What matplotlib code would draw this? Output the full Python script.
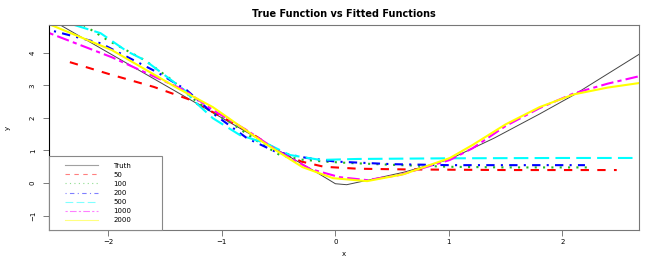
import numpy as np
import matplotlib
matplotlib.use('Agg')
import matplotlib.pyplot as plt
from matplotlib.legend_handler import HandlerLine2D

# values
truth_x = [-2.55, -2.0, -1.5, -1.0, -0.5, -0.2, 0.0, 0.1, 0.3, 0.6, 1.0, 1.4, 1.8, 2.1, 2.7]
truth_y = [5.1, 4.0, 3.0, 2.0, 1.0, 0.4, -0.02, -0.05, 0.1, 0.33, 0.72, 1.38, 2.12, 2.7, 4.0]

x50 = [-2.34, -2.0, -1.6, -1.3, -1.0, -0.75, -0.5, -0.3, -0.1, 0.2, 0.6, 1.0, 1.5, 2.0, 2.48]
y50 = [3.71, 3.35, 2.95, 2.58, 2.03, 1.55, 0.98, 0.66, 0.5, 0.44, 0.42, 0.41, 0.40, 0.40, 0.40]

x100 = [-2.22, -2.01, -1.68, -1.44, -1.26, -1.1, -0.93, -0.66, -0.49, -0.3, -0.1, 0.1, 0.5, 1.0, 1.5, 2.26]
y100 = [4.85, 4.39, 3.77, 3.16, 2.6, 2.2, 1.87, 1.22, 0.86, 0.72, 0.66, 0.62, 0.56, 0.50, 0.48, 0.48]

x200 = [-2.48, -2.07, -1.57, -1.31, -1.08, -0.78, -0.52, -0.25, 0.0, 0.5, 1.0, 1.5, 2.2]
y200 = [4.66, 4.29, 3.4, 2.85, 2.14, 1.38, 0.95, 0.77, 0.66, 0.58, 0.55, 0.55, 0.55]

x500 = [-2.3, -2.07, -1.84, -1.68, -1.5, -1.33, -1.24, -1.08, -0.84, -0.61, -0.4, -0.13, 0.2, 1.0, 2.0, 2.64]
y500 = [4.85, 4.6, 4.05, 3.77, 3.3, 2.85, 2.5, 1.99, 1.47, 1.22, 0.86, 0.71, 0.74, 0.76, 0.77, 0.77]

x1000 = [-2.52, -1.97, -1.68, -1.33, -1.08, -0.78, -0.49, -0.22, 0.04, 0.28, 0.57, 1.01, 1.21, 1.5, 1.8, 2.1, 2.4, 2.68]
y1000 = [4.6, 3.86, 3.4, 2.85, 2.24, 1.62, 0.95, 0.43, 0.18, 0.09, 0.25, 0.71, 1.07, 1.75, 2.3, 2.75, 3.05, 3.28]

x2000 = [-2.52, -1.97, -1.39, -1.08, -0.64, -0.29, -0.02, 0.28, 0.6, 1.01, 1.21, 1.5, 1.8, 2.1, 2.4, 2.68]
y2000 = [4.87, 4.08, 2.91, 2.33, 1.26, 0.49, 0.15, 0.06, 0.27, 0.77, 1.17, 1.8, 2.33, 2.72, 2.93, 3.07]

labels = ['Truth', '50', '100', '200', '500', '1000', '2000']
colors = ['#444444', 'red', '#22bb22', 'blue', 'cyan', 'magenta', 'yellow']
# R style line types, in units of line width
dashes = [None, (4, 4), (1, 3), (1, 3, 4, 3), (7, 3), (2, 2, 6, 2), None]

fig = plt.figure(figsize=(6.64, 2.62), dpi=100)
ax = fig.add_axes([0.0738, 0.1221, 0.8885, 0.7825])

series = [(truth_x, truth_y), (x50, y50), (x100, y100), (x200, y200),
          (x500, y500), (x1000, y1000), (x2000, y2000)]
handles = []
for (xs, ys), lab, col, d in zip(series, labels, colors, dashes):
    lw = 0.7 if lab == 'Truth' else 1.5
    line, = ax.plot(xs, ys, color=col, lw=lw, label=lab)
    if d is not None:
        line.set_dashes(d)
    handles.append(line)

ax.set_xlim(-2.524, 2.676)
ax.set_ylim(-1.44, 4.85)
ax.set_xticks([-2, -1, 0, 1, 2])
ax.set_yticks([-1, 0, 1, 2, 3, 4])
ax.tick_params(labelsize=5, length=4.5, width=0.6, color='#666666')
ax.tick_params(axis='y', pad=5)
ax.tick_params(axis='x', pad=2)
for t in ax.get_yticklabels():
    t.set_rotation(90)
    t.set_va('center')
for s in ax.spines.values():
    s.set_color('#777777')
    s.set_linewidth(0.8)
ax.spines['left'].set_color('black')

ax.set_xlabel('x', fontsize=5, labelpad=4)
ax.set_ylabel('y', fontsize=5, labelpad=14)
ax.set_title('True Function vs Fitted Functions', fontsize=7,
             fontweight='bold', pad=6)

leg = ax.legend(handles=handles, loc='lower left', fontsize=5,
                bbox_to_anchor=(0, 0, 0.1915, 1), mode='expand',
                fancybox=False, edgecolor='#888888', framealpha=1,
                borderaxespad=0, handlelength=6.15, handletextpad=2.16,
                labelspacing=0.45, borderpad=0.95,
                handler_map={plt.Line2D: HandlerLine2D(xpad=1.4)})
leg.get_frame().set_linewidth(0.8)
for h in leg.get_lines():
    h.set_linewidth(0.8)
    h.set_alpha(0.5)

fig.savefig('out.png', dpi=100)
